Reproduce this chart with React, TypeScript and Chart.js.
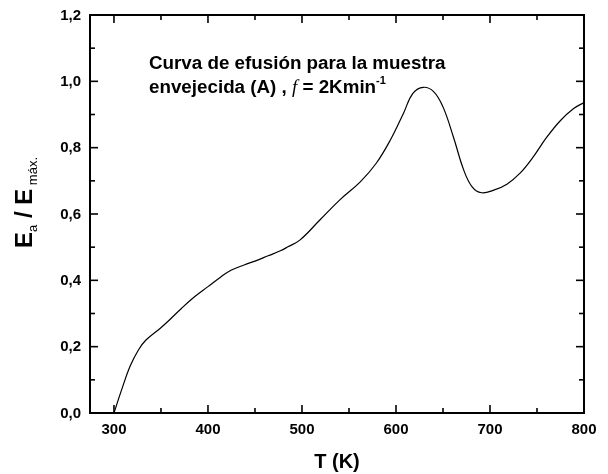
import React, { useEffect, useRef } from "react";
import { Chart, registerables } from "chart.js";

Chart.register(...registerables);

const temperatures = [300, 308, 317, 326, 334, 349, 357, 372, 386, 400, 414, 425, 439, 450, 464, 477, 485, 498, 519, 540, 562, 579, 594, 608, 618, 629, 640, 650, 661, 672, 681, 691, 704, 718, 732, 746, 760, 775, 789, 800];
const ratios = [0.0, 0.069, 0.14, 0.19, 0.22, 0.255, 0.275, 0.316, 0.351, 0.381, 0.411, 0.431, 0.447, 0.458, 0.474, 0.489, 0.501, 0.522, 0.582, 0.642, 0.697, 0.753, 0.823, 0.904, 0.964, 0.982, 0.969, 0.923, 0.833, 0.733, 0.682, 0.664, 0.672, 0.69, 0.723, 0.772, 0.83, 0.882, 0.918, 0.936];

const xMajorTicks = [300, 400, 500, 600, 700, 800];
const xMinorTicks = [350, 450, 550, 650, 750];
const yMajorTicks = [0, 0.2, 0.4, 0.6, 0.8, 1.0, 1.2];
const yMinorTicks = [0.1, 0.3, 0.5, 0.7, 0.9, 1.1];
const yTickLabels = ["0,0", "0,2", "0,4", "0,6", "0,8", "1,0", "1,2"];
const xTickLabels = ["300", "400", "500", "600", "700", "800"];

const FONT = '"Liberation Sans", Arial, sans-serif';

const framePlugin = {
  id: "frameAxes",
  afterDraw(chart: any) {
    const ctx: CanvasRenderingContext2D = chart.ctx;
    const xs = chart.scales.x;
    const ys = chart.scales.y;
    const { left, right, top, bottom } = chart.chartArea;
    ctx.save();
    ctx.strokeStyle = "#000";
    ctx.fillStyle = "#000";
    ctx.lineWidth = 2;
    ctx.strokeRect(left, top, right - left, bottom - top);

    const seg = (x1: number, y1: number, x2: number, y2: number) => {
      ctx.beginPath();
      ctx.moveTo(x1, y1);
      ctx.lineTo(x2, y2);
      ctx.stroke();
    };
    ctx.lineWidth = 1.6;
    xMajorTicks.forEach((v) => {
      const p = xs.getPixelForValue(v);
      seg(p, bottom, p, bottom - 8);
      seg(p, top, p, top + 8);
    });
    xMinorTicks.forEach((v) => {
      const p = xs.getPixelForValue(v);
      seg(p, bottom, p, bottom - 5);
      seg(p, top, p, top + 5);
    });
    yMajorTicks.forEach((v) => {
      const p = ys.getPixelForValue(v);
      seg(left, p, left + 8, p);
      seg(right, p, right - 8, p);
    });
    yMinorTicks.forEach((v) => {
      const p = ys.getPixelForValue(v);
      seg(left, p, left + 5, p);
      seg(right, p, right - 5, p);
    });

    // tick labels
    ctx.font = `bold 15px ${FONT}`;
    ctx.textAlign = "right";
    ctx.textBaseline = "middle";
    yMajorTicks.forEach((v, i) => {
      ctx.fillText(yTickLabels[i], left - 9, ys.getPixelForValue(v) + 0.5);
    });
    ctx.textAlign = "center";
    ctx.textBaseline = "alphabetic";
    xMajorTicks.forEach((v, i) => {
      ctx.fillText(xTickLabels[i], xs.getPixelForValue(v), bottom + 21);
    });

    // x title
    ctx.font = `bold 20px ${FONT}`;
    ctx.fillText("T (K)", (left + right) / 2, bottom + 55);

    // y title (rotated)
    ctx.save();
    ctx.translate(32, 248);
    ctx.rotate(-Math.PI / 2);
    const big = `bold 24px ${FONT}`;
    const small = `13px ${FONT}`;
    const parts: [string, string, number][] = [
      ["E", big, 0],
      ["a", small, 5],
      [" / E", big, 0],
      [" máx.", small, 5],
    ];
    let cx = 0;
    ctx.textAlign = "left";
    parts.forEach(([t, f, dy]) => {
      ctx.font = f;
      ctx.fillText(t, cx, dy);
      cx += ctx.measureText(t).width;
    });
    ctx.restore();

    // annotation
    ctx.textAlign = "left";
    ctx.font = `bold 18.8px ${FONT}`;
    ctx.fillText("Curva de efusión para la muestra", 149, 69);
    let ax = 149;
    const ay = 93;
    const seq: [string, string, number][] = [
      ["envejecida (A) , ", `bold 18.8px ${FONT}`, 0],
      ["f", `italic 19px "Liberation Serif", "Times New Roman", serif`, 0],
      [" = 2Kmin", `bold 18.8px ${FONT}`, 0],
      ["-1", `bold 11px ${FONT}`, -9],
    ];
    seq.forEach(([t, f, dy]) => {
      ctx.font = f;
      ctx.fillText(t, ax, ay + dy);
      ax += ctx.measureText(t).width;
    });
    ctx.restore();
  },
};

export default function App() {
  const canvasRef = useRef<HTMLCanvasElement | null>(null);

  useEffect(() => {
    if (!canvasRef.current) return;
    const chart = new Chart(canvasRef.current, {
      type: "line",
      data: {
        datasets: [
          {
            data: temperatures.map((t, i) => ({ x: t, y: ratios[i] })),
            borderColor: "#000",
            borderWidth: 1.2,
            pointRadius: 0,
            fill: false,
            tension: 0.4,
          },
        ],
      },
      options: {
        responsive: false,
        animation: false,
        events: [],
        layout: { padding: { left: 90, top: 15, right: 24, bottom: 61 } },
        plugins: { legend: { display: false }, tooltip: { enabled: false } },
        scales: {
          x: { type: "linear", min: 274.5, max: 800, display: false },
          y: { type: "linear", min: 0, max: 1.2, display: false },
        },
      },
      plugins: [framePlugin],
    });
    return () => chart.destroy();
  }, []);

  return (
    <div style={{ position: "absolute", left: 0, top: 0, width: 608, height: 474, background: "#fff" }}>
      <canvas ref={canvasRef} width={608} height={474} />
    </div>
  );
}
